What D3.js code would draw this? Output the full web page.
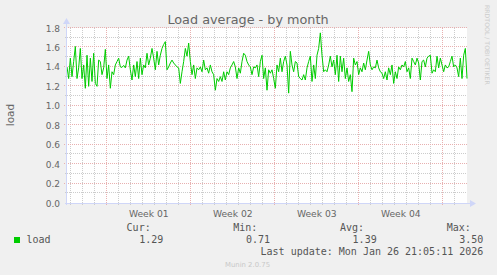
<!DOCTYPE html>
<html>
<head>
<meta charset="utf-8">
<script src="https://cdn.jsdelivr.net/npm/d3@7"></script>
<style>
body { margin: 0; background: #f0f0f0; }
svg { display: block; }
text { font-family: "DejaVu Sans", sans-serif; fill: #666; }
.mono { font-family: "DejaVu Sans Mono", monospace; font-size: 10px; fill: #555; }
</style>
</head>
<body>
<svg id="chart"></svg>
<script>
var WIDTH = 497;
var HEIGHT = 275;
var LEFT = 67, RIGHT = 467, TOP = 28, BOTTOM = 203;

// load samples, left to right (about every 3h20m)
var load = [
    1.40, 1.28, 1.49, 1.30, 1.455, 1.61, 1.28, 1.39, 1.59, 1.28,
    1.42, 1.18, 1.52, 1.20, 1.49, 1.25, 1.54, 1.23, 1.20, 1.47,
    1.455, 1.32, 1.39, 1.58, 1.28, 1.42, 1.18, 1.35, 1.32, 1.42,
    1.455, 1.49, 1.40, 1.395, 1.415, 1.39, 1.47, 1.51, 1.37, 1.265,
    1.42, 1.30, 1.455, 1.28, 1.49, 1.32, 1.42, 1.39, 1.54, 1.42,
    1.49, 1.59, 1.49, 1.37, 1.56, 1.42, 1.52, 1.59, 1.63, 1.66,
    1.37, 1.40, 1.44, 1.47, 1.44, 1.42, 1.40, 1.39, 1.23, 1.35,
    1.455, 1.59, 1.51, 1.645, 1.455, 1.32, 1.42, 1.28, 1.39, 1.37,
    1.40, 1.35, 1.47, 1.37, 1.39, 1.335, 1.42, 1.35, 1.32, 1.16,
    1.28, 1.25, 1.30, 1.25, 1.35, 1.265, 1.35, 1.32, 1.39, 1.42,
    1.455, 1.40, 1.28, 1.39, 1.335, 1.455, 1.54, 1.52, 1.455, 1.42,
    1.40, 1.32, 1.40, 1.39, 1.42, 1.30, 1.455, 1.52, 1.28, 1.39,
    1.16, 1.37, 1.335, 1.37, 1.28, 1.18, 1.42, 1.35, 1.49, 1.35,
    1.455, 1.51, 1.42, 1.13, 1.56, 1.42, 1.35, 1.455, 1.44, 1.30,
    1.28, 1.265, 1.32, 1.265, 1.39, 1.455, 1.51, 1.25, 1.42, 1.28,
    1.52, 1.59, 1.75, 1.52, 1.35, 1.37, 1.35, 1.42, 1.51, 1.40,
    1.47, 1.32, 1.52, 1.25, 1.51, 1.35, 1.49, 1.28, 1.39, 1.25,
    1.32, 1.145, 1.49, 1.42, 1.455, 1.32, 1.39, 1.35, 1.44, 1.37,
    1.47, 1.56, 1.42, 1.37, 1.40, 1.39, 1.47, 1.39, 1.35, 1.335,
    1.28, 1.35, 1.265, 1.39, 1.32, 1.42, 1.23, 1.35, 1.28, 1.40,
    1.37, 1.42, 1.40, 1.455, 1.35, 1.39, 1.28, 1.49, 1.455, 1.42,
    1.49, 1.44, 1.265, 1.455, 1.47, 1.40, 1.49, 1.51, 1.52, 1.335,
    1.37, 1.35, 1.51, 1.39, 1.49, 1.42, 1.35, 1.42, 1.39, 1.40,
    1.455, 1.51, 1.40, 1.42, 1.39, 1.30, 1.49, 1.28, 1.52, 1.59,
    1.28
];

var startTime = new Date(Date.UTC(2025, 11, 24, 15, 24));
var endTime = new Date(Date.UTC(2026, 0, 26, 23, 24));

var yTicks = [0.0, 0.2, 0.4, 0.6, 0.8, 1.0, 1.2, 1.4, 1.6, 1.8];
var weekStarts = [
    new Date(Date.UTC(2025, 11, 28)),
    new Date(Date.UTC(2026, 0, 4)),
    new Date(Date.UTC(2026, 0, 11)),
    new Date(Date.UTC(2026, 0, 18)),
    new Date(Date.UTC(2026, 0, 25))
];
var weekLabels = ['Week 01', 'Week 02', 'Week 03', 'Week 04'];

var legendHeads = ['Cur:', 'Min:', 'Avg:', 'Max:'];
var legendValues = ['1.29', '0.71', '1.39', '3.50'];
var lastUpdate = 'Last update: Mon Jan 26 21:05:11 2026';

var xScale = d3.scaleUtc().domain([startTime, endTime]).range([LEFT, RIGHT]);
var yScale = d3.scaleLinear().domain([0, 1.8]).range([BOTTOM, TOP]);

var crisp = function(v){ return Math.round(v) + 0.5; };

var svg = d3.select('#chart').attr('width', WIDTH).attr('height', HEIGHT);

svg.append('rect').attr('width', WIDTH).attr('height', HEIGHT).attr('fill', '#f0f0f0');
svg.append('rect')
    .attr('x', LEFT).attr('y', TOP)
    .attr('width', RIGHT - LEFT).attr('height', BOTTOM - TOP)
    .attr('fill', '#ffffff');

// grid
var grid = svg.append('g');
var minorY = d3.range(1, 18, 2).map(function(d){ return d / 10; });
var days = d3.utcDay.range(startTime, endTime);

grid.selectAll('.vminor').data(days).enter().append('line')
    .attr('x1', function(d){ return crisp(xScale(d)) - 1; })
    .attr('x2', function(d){ return crisp(xScale(d)) - 1; })
    .attr('y1', TOP).attr('y2', BOTTOM + 2)
    .attr('stroke', '#cccccc').attr('stroke-dasharray', '1,1');

grid.selectAll('.hminor').data(minorY).enter().append('line')
    .attr('x1', LEFT - 2).attr('x2', RIGHT)
    .attr('y1', function(d){ return crisp(yScale(d)) - 1; })
    .attr('y2', function(d){ return crisp(yScale(d)) - 1; })
    .attr('stroke', '#cccccc').attr('stroke-dasharray', '1,1');

grid.selectAll('.vmajor').data(weekStarts).enter().append('line')
    .attr('x1', function(d){ return crisp(xScale(d)) - 1; })
    .attr('x2', function(d){ return crisp(xScale(d)) - 1; })
    .attr('y1', TOP).attr('y2', BOTTOM + 3)
    .attr('stroke', '#e8b0b0').attr('stroke-dasharray', '1,1');

grid.selectAll('.hmajor').data(yTicks.slice(1)).enter().append('line')
    .attr('x1', LEFT - 3).attr('x2', RIGHT)
    .attr('y1', function(d){ return crisp(yScale(d)) - 1; })
    .attr('y2', function(d){ return crisp(yScale(d)) - 1; })
    .attr('stroke', '#e8b0b0').attr('stroke-dasharray', '1,1');

// the series
var line = d3.line()
    .x(function(d, i){ return xScale(new Date(startTime.getTime() + i * (endTime - startTime) / (load.length - 1))); })
    .y(function(d){ return yScale(d); });

svg.append('path')
    .datum(load)
    .attr('d', line)
    .attr('fill', 'none')
    .attr('stroke', '#00cc00')
    .attr('stroke-width', 1);

// axes with arrows
svg.append('line')
    .attr('x1', LEFT - 0.5).attr('x2', LEFT - 0.5)
    .attr('y1', BOTTOM + 2).attr('y2', TOP - 5)
    .attr('stroke', '#cfd6f8');
svg.append('path')
    .attr('d', 'M' + (LEFT - 4) + ',' + (TOP - 4) + 'L' + (LEFT - 0.5) + ',' + (TOP - 10) + 'L' + (LEFT + 3) + ',' + (TOP - 4) + 'Z')
    .attr('fill', '#cfd6f8');
svg.append('line')
    .attr('x1', LEFT - 2).attr('x2', RIGHT + 4)
    .attr('y1', BOTTOM + 0.5).attr('y2', BOTTOM + 0.5)
    .attr('stroke', '#cfd6f8');
svg.append('path')
    .attr('d', 'M' + (RIGHT + 3) + ',' + (BOTTOM - 3) + 'L' + (RIGHT + 9) + ',' + (BOTTOM + 0.5) + 'L' + (RIGHT + 3) + ',' + (BOTTOM + 4) + 'Z')
    .attr('fill', '#cfd6f8');

// y labels
svg.selectAll('.ylab').data(yTicks).enter().append('text')
    .attr('x', 60)
    .attr('y', function(d){ return yScale(d) + 3.5; })
    .attr('text-anchor', 'end')
    .style('font-size', '9px')
    .text(d3.format('.1f'));

// week labels, centred in each week
svg.selectAll('.xlab').data(weekLabels).enter().append('text')
    .attr('x', function(d, i){ return (xScale(weekStarts[i]) + xScale(weekStarts[i + 1])) / 2 - 0.5; })
    .attr('y', 216.5)
    .attr('text-anchor', 'middle')
    .style('font-size', '9.2px')
    .text(function(d){ return d; });

svg.append('text')
    .attr('x', 248).attr('y', 24)
    .attr('text-anchor', 'middle')
    .style('font-size', '12.8px')
    .text('Load average - by month');

svg.append('text')
    .attr('transform', 'translate(14,115) rotate(-90)')
    .attr('text-anchor', 'middle')
    .style('font-size', '10.5px')
    .text('load');

svg.append('text')
    .attr('transform', 'translate(485,5) rotate(90)')
    .attr('text-anchor', 'start')
    .style('font-size', '6.2px')
    .style('fill', '#cccccc')
    .text('RRDTOOL / TOBI OETIKER');

// legend
svg.append('rect')
    .attr('x', 14).attr('y', 237).attr('width', 6).attr('height', 6)
    .attr('fill', '#00cc00');
svg.append('text').attr('class', 'mono').attr('x', 26.5).attr('y', 243).text('load');

svg.selectAll('.lhead').data(legendHeads).enter().append('text')
    .attr('class', 'mono')
    .attr('x', function(d, i){ return 150.7 + i * 106.7; })
    .attr('y', 231)
    .attr('text-anchor', 'end')
    .text(function(d){ return d; });

svg.selectAll('.lval').data(legendValues).enter().append('text')
    .attr('class', 'mono')
    .attr('x', function(d, i){ return 163.3 + i * 106.7; })
    .attr('y', 243)
    .attr('text-anchor', 'end')
    .text(function(d){ return d; });

svg.append('text').attr('class', 'mono')
    .attr('x', 483.3).attr('y', 254.5)
    .attr('text-anchor', 'end')
    .text(lastUpdate);

svg.append('text')
    .attr('x', 247.5).attr('y', 266.5)
    .attr('text-anchor', 'middle')
    .style('font-size', '6.9px')
    .style('fill', '#c8c8c8')
    .text('Munin 2.0.75');
</script>
</body>
</html>
